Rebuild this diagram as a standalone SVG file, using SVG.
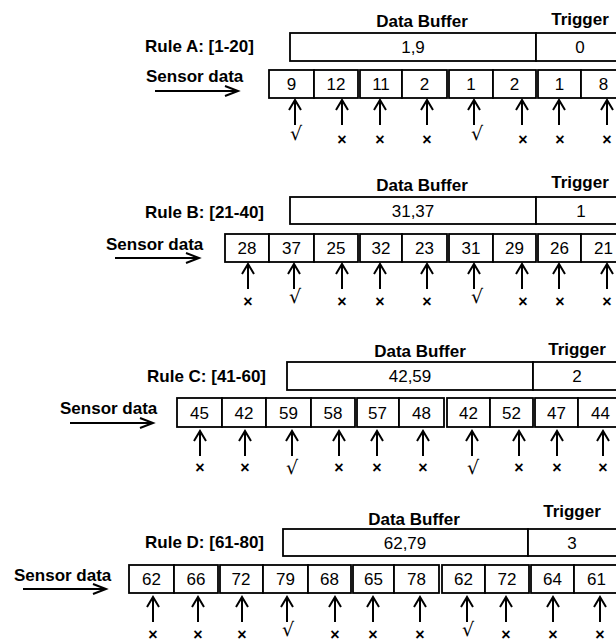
<svg xmlns="http://www.w3.org/2000/svg" xmlns:xlink="http://www.w3.org/1999/xlink" width="616" height="642" viewBox="0 0 616 642">
  <style>
    .lbl { font-family: "Liberation Sans", Arial, sans-serif; font-size: 17px; font-weight: bold; fill: #000; }
    .num { font-family: "Liberation Sans", Arial, sans-serif; font-size: 17px; fill: #000; text-anchor: middle; }
    .mid { text-anchor: middle; }
    .box { fill: #fff; stroke: #000; stroke-width: 1.8; }
    .arr { fill: none; stroke: #000; stroke-width: 2; stroke-linecap: butt; stroke-linejoin: miter; }
    .x { font-family: "Liberation Sans", Arial, sans-serif; font-size: 16px; font-weight: bold; text-anchor: middle; fill: #000; }
    .ok { font-family: "DejaVu Sans", "Liberation Sans", sans-serif; font-size: 19px; text-anchor: middle; fill: #000; }
  </style>
  <defs>
    <!-- upward pointer, tip at origin -->
    <path id="up" class="arr" d="M-6,10 L0,0 L6,10 M0,0 V25"/>
    <!-- horizontal input arrow head, tip at origin -->
    <path id="head" class="arr" d="M-13,-5 L0,0 L-13,5"/>
  </defs>
  <rect width="616" height="642" fill="#fff"/>

  <!-- ===== Rule A ===== -->
  <g id="rule-a">
    <text class="lbl" x="145" y="52">Rule A: [1-20]</text>
    <text class="lbl mid" x="422" y="27">Data Buffer</text>
    <text class="lbl mid" x="580" y="25">Trigger</text>
    <rect class="box" x="290" y="33" width="246" height="28"/>
    <rect class="box" x="536" y="33" width="90" height="28"/>
    <text class="num" x="413" y="53">1,9</text>
    <text class="num" x="580" y="53">0</text>
    <text class="lbl" x="146" y="82">Sensor data</text>
  </g>
  <g id="cells-a">
    <rect class="box" x="269" y="70" width="45" height="28"/>
    <rect class="box" x="314" y="70" width="44" height="28"/>
    <rect class="box" x="360" y="70" width="42" height="28"/>
    <rect class="box" x="402" y="70" width="45" height="28"/>
    <rect class="box" x="449" y="70" width="44" height="28"/>
    <rect class="box" x="493" y="70" width="43" height="28"/>
    <rect class="box" x="538" y="70" width="43" height="28"/>
    <rect class="box" x="581" y="70" width="45" height="28"/>
    <text class="num" x="291.5" y="90">9</text>
    <text class="num" x="336" y="90">12</text>
    <text class="num" x="381" y="90">11</text>
    <text class="num" x="424.5" y="90">2</text>
    <text class="num" x="471" y="90">1</text>
    <text class="num" x="514.5" y="90">2</text>
    <text class="num" x="559.5" y="90">1</text>
    <text class="num" x="603.5" y="90">8</text>
  </g>

  <!-- ===== Rule B ===== -->
  <g id="rule-b">
    <text class="lbl" x="145" y="218">Rule B: [21-40]</text>
    <text class="lbl mid" x="422" y="191">Data Buffer</text>
    <text class="lbl mid" x="580" y="188">Trigger</text>
    <rect class="box" x="290" y="197" width="246" height="27"/>
    <rect class="box" x="536" y="197" width="90" height="27"/>
    <text class="num" x="413" y="216.5">31,37</text>
    <text class="num" x="581" y="216.5">1</text>
    <text class="lbl" x="106" y="249.5">Sensor data</text>
  </g>
  <g id="cells-b">
    <rect class="box" x="225" y="234" width="44" height="28"/>
    <rect class="box" x="269" y="234" width="45" height="28"/>
    <rect class="box" x="314" y="234" width="44" height="28"/>
    <rect class="box" x="360" y="234" width="42" height="28"/>
    <rect class="box" x="402" y="234" width="45" height="28"/>
    <rect class="box" x="449" y="234" width="44" height="28"/>
    <rect class="box" x="493" y="234" width="43" height="28"/>
    <rect class="box" x="538" y="234" width="43" height="28"/>
    <rect class="box" x="581" y="234" width="45" height="28"/>
    <text class="num" x="247" y="254">28</text>
    <text class="num" x="291.5" y="254">37</text>
    <text class="num" x="336" y="254">25</text>
    <text class="num" x="381" y="254">32</text>
    <text class="num" x="424.5" y="254">23</text>
    <text class="num" x="471" y="254">31</text>
    <text class="num" x="514.5" y="254">29</text>
    <text class="num" x="559.5" y="254">26</text>
    <text class="num" x="603.5" y="254">21</text>
  </g>

  <!-- ===== Rule C ===== -->
  <g id="rule-c">
    <text class="lbl" x="147" y="382">Rule C: [41-60]</text>
    <text class="lbl mid" x="420" y="356.5">Data Buffer</text>
    <text class="lbl mid" x="577" y="355">Trigger</text>
    <rect class="box" x="287" y="362" width="246" height="28"/>
    <rect class="box" x="533" y="362" width="90" height="28"/>
    <text class="num" x="410" y="382">42,59</text>
    <text class="num" x="577" y="382">2</text>
    <text class="lbl" x="60" y="414">Sensor data</text>
  </g>
  <g id="cells-c">
    <rect class="box" x="177" y="398" width="45" height="29"/>
    <rect class="box" x="222" y="398" width="44" height="29"/>
    <rect class="box" x="266" y="398" width="45" height="29"/>
    <rect class="box" x="311" y="398" width="44" height="29"/>
    <rect class="box" x="357" y="398" width="42" height="29"/>
    <rect class="box" x="399" y="398" width="45" height="29"/>
    <rect class="box" x="447" y="398" width="43" height="29"/>
    <rect class="box" x="490" y="398" width="43" height="29"/>
    <rect class="box" x="535" y="398" width="43" height="29"/>
    <rect class="box" x="578" y="398" width="45" height="29"/>
    <text class="num" x="199.5" y="418.5">45</text>
    <text class="num" x="244" y="418.5">42</text>
    <text class="num" x="288.5" y="418.5">59</text>
    <text class="num" x="333" y="418.5">58</text>
    <text class="num" x="377.5" y="418.5">57</text>
    <text class="num" x="421.5" y="418.5">48</text>
    <text class="num" x="468.5" y="418.5">42</text>
    <text class="num" x="511.5" y="418.5">52</text>
    <text class="num" x="556.5" y="418.5">47</text>
    <text class="num" x="600.5" y="418.5">44</text>
  </g>

  <!-- ===== Rule D ===== -->
  <g id="rule-d">
    <text class="lbl" x="145" y="548">Rule D: [61-80]</text>
    <text class="lbl mid" x="414" y="525">Data Buffer</text>
    <text class="lbl mid" x="572" y="517">Trigger</text>
    <rect class="box" x="283" y="529" width="245" height="27"/>
    <rect class="box" x="528" y="529" width="90" height="27"/>
    <text class="num" x="405" y="548.5">62,79</text>
    <text class="num" x="572" y="548.5">3</text>
    <text class="lbl" x="14" y="581">Sensor data</text>
  </g>
  <g id="cells-d">
    <rect class="box" x="129" y="565" width="45" height="28"/>
    <rect class="box" x="174" y="565" width="44" height="28"/>
    <rect class="box" x="220" y="565" width="43" height="28"/>
    <rect class="box" x="263" y="565" width="45" height="28"/>
    <rect class="box" x="308" y="565" width="43" height="28"/>
    <rect class="box" x="353" y="565" width="41" height="28"/>
    <rect class="box" x="394" y="565" width="45" height="28"/>
    <rect class="box" x="442" y="565" width="43" height="28"/>
    <rect class="box" x="485" y="565" width="44" height="28"/>
    <rect class="box" x="531" y="565" width="43" height="28"/>
    <rect class="box" x="574" y="565" width="45" height="28"/>
    <text class="num" x="151.5" y="585">62</text>
    <text class="num" x="196" y="585">66</text>
    <text class="num" x="241" y="585">72</text>
    <text class="num" x="285.5" y="585">79</text>
    <text class="num" x="329.5" y="585">68</text>
    <text class="num" x="373.5" y="585">65</text>
    <text class="num" x="416.5" y="585">78</text>
    <text class="num" x="463.5" y="585">62</text>
    <text class="num" x="507" y="585">72</text>
    <text class="num" x="552.5" y="585">64</text>
    <text class="num" x="596.5" y="585">61</text>
  </g>

  <!-- ===== connectors ===== -->
  <g id="connectors">
    <!-- input arrows -->
    <path class="arr" d="M155,91 H237"/><use xlink:href="#head" x="238" y="91"/>
    <path class="arr" d="M115,258 H198"/><use xlink:href="#head" x="199" y="258"/>
    <path class="arr" d="M70,423 H152"/><use xlink:href="#head" x="153" y="423"/>
    <path class="arr" d="M23,589 H105"/><use xlink:href="#head" x="106" y="589"/>
    <!-- read pointers A -->
    <use xlink:href="#up" x="295" y="100"/><use xlink:href="#up" x="342" y="100"/>
    <use xlink:href="#up" x="380" y="100"/><use xlink:href="#up" x="427" y="100"/>
    <use xlink:href="#up" x="474" y="100"/><use xlink:href="#up" x="522" y="100"/>
    <use xlink:href="#up" x="559" y="100"/><use xlink:href="#up" x="607" y="100"/>
    <!-- read pointers B -->
    <use xlink:href="#up" x="248" y="264"/><use xlink:href="#up" x="294" y="264"/>
    <use xlink:href="#up" x="342" y="264"/><use xlink:href="#up" x="380" y="264"/>
    <use xlink:href="#up" x="427" y="264"/><use xlink:href="#up" x="474" y="264"/>
    <use xlink:href="#up" x="522" y="264"/><use xlink:href="#up" x="559" y="264"/>
    <use xlink:href="#up" x="607" y="264"/>
    <!-- read pointers C -->
    <use xlink:href="#up" x="200" y="431"/><use xlink:href="#up" x="245" y="431"/>
    <use xlink:href="#up" x="292" y="431"/><use xlink:href="#up" x="339" y="431"/>
    <use xlink:href="#up" x="377" y="431"/><use xlink:href="#up" x="423" y="431"/>
    <use xlink:href="#up" x="472" y="431"/><use xlink:href="#up" x="519" y="431"/>
    <use xlink:href="#up" x="557" y="431"/><use xlink:href="#up" x="603" y="431"/>
    <!-- read pointers D -->
    <use xlink:href="#up" x="153" y="597"/><use xlink:href="#up" x="198" y="597"/>
    <use xlink:href="#up" x="242" y="597"/><use xlink:href="#up" x="287" y="597"/>
    <use xlink:href="#up" x="335" y="597"/><use xlink:href="#up" x="373" y="597"/>
    <use xlink:href="#up" x="420" y="597"/><use xlink:href="#up" x="467" y="597"/>
    <use xlink:href="#up" x="506" y="597"/><use xlink:href="#up" x="553" y="597"/>
    <use xlink:href="#up" x="600" y="597"/>
  </g>

  <!-- ===== match marks ===== -->
  <g id="marks-a">
    <text class="ok" x="296" y="140">√</text>
    <text class="x" x="342" y="144.5">×</text>
    <text class="x" x="380" y="144.5">×</text>
    <text class="x" x="427" y="144.5">×</text>
    <text class="ok" x="477" y="140">√</text>
    <text class="x" x="523" y="144.5">×</text>
    <text class="x" x="560" y="144.5">×</text>
    <text class="x" x="607" y="144.5">×</text>
  </g>
  <g id="marks-b">
    <text class="x" x="248" y="307">×</text>
    <text class="ok" x="295" y="303">√</text>
    <text class="x" x="342" y="306.5">×</text>
    <text class="x" x="380" y="306.5">×</text>
    <text class="x" x="427" y="306.5">×</text>
    <text class="ok" x="477" y="303">√</text>
    <text class="x" x="523" y="306.5">×</text>
    <text class="x" x="560" y="306.5">×</text>
    <text class="x" x="607" y="306.5">×</text>
  </g>
  <g id="marks-c">
    <text class="x" x="200" y="472.5">×</text>
    <text class="x" x="245" y="472.5">×</text>
    <text class="ok" x="292" y="474">√</text>
    <text class="x" x="339" y="472.5">×</text>
    <text class="x" x="377" y="472.5">×</text>
    <text class="x" x="423" y="472.5">×</text>
    <text class="ok" x="473" y="474">√</text>
    <text class="x" x="519" y="472.5">×</text>
    <text class="x" x="557" y="472.5">×</text>
    <text class="x" x="603" y="472.5">×</text>
  </g>
  <g id="marks-d">
    <text class="x" x="153" y="639.5">×</text>
    <text class="x" x="198" y="639.5">×</text>
    <text class="x" x="242" y="639.5">×</text>
    <text class="ok" x="288" y="636">√</text>
    <text class="x" x="335" y="639.5">×</text>
    <text class="x" x="373" y="639.5">×</text>
    <text class="x" x="420" y="639.5">×</text>
    <text class="ok" x="468" y="636">√</text>
    <text class="x" x="506" y="639.5">×</text>
    <text class="x" x="553" y="639.5">×</text>
    <text class="x" x="600" y="639.5">×</text>
  </g>
</svg>
